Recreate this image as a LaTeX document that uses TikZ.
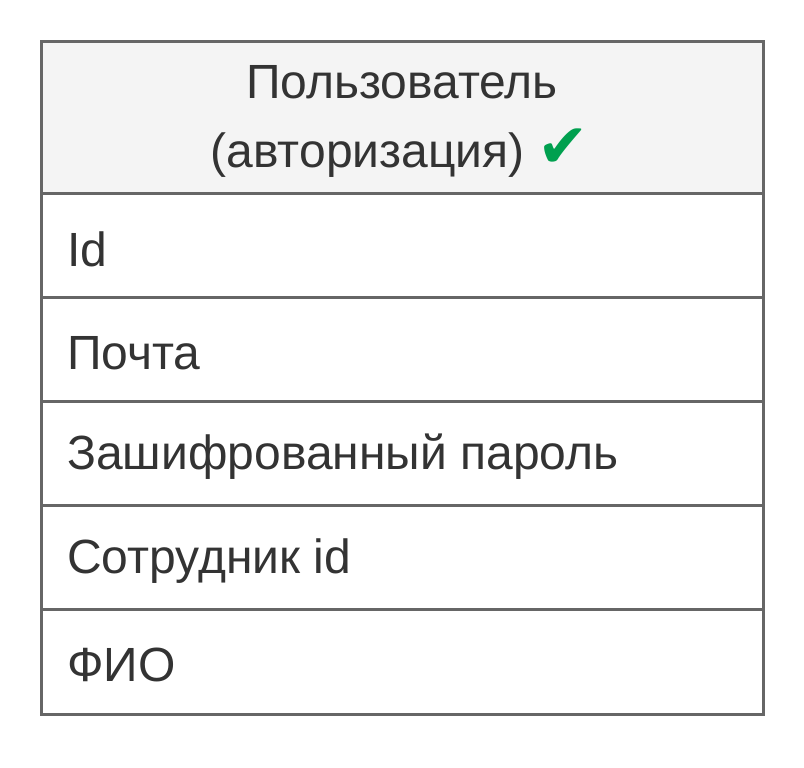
\documentclass[tikz,border=0pt]{standalone}
\usepackage{fontspec}
\setmainfont{Liberation Sans}
\newfontfamily\symfont{DejaVu Sans}
\definecolor{bordergray}{HTML}{666666}
\definecolor{headfill}{HTML}{F4F4F4}
\definecolor{txt}{HTML}{333333}
\definecolor{checkgreen}{HTML}{00A04F}
\begin{document}
\begin{tikzpicture}[x=0.75pt,y=-0.75pt,
  cell/.style={draw=bordergray,line width=2.25pt},
  rowtext/.style={anchor=west,text=txt,font=\fontsize{36}{42}\selectfont,inner sep=0pt},
  headtext/.style={anchor=center,text=txt,font=\fontsize{36}{42}\selectfont,inner sep=0pt}]
\useasboundingbox (0,0) rectangle (804,768);
\fill[headfill] (41,41) rectangle (763,193);
\draw[cell] (41,41) rectangle (763,714);
\foreach \yy in {193,297,401,505,609} \draw[cell] (41,\yy) -- (763,\yy);
\node[headtext] (h1) at (402,82) {Пользователь};
\node[headtext] (h2) at (400,153) {(авторизация) \textcolor{checkgreen}{\symfont\fontsize{46}{42}\selectfont ✔}};
\node[rowtext] (r1) at (67,249) {Id};
\node[rowtext] (r2) at (67,353) {Почта};
\node[rowtext] (r3) at (67,457) {Зашифрованный пароль};
\node[rowtext] (r4) at (67,561) {Сотрудник id};
\node[rowtext] (r5) at (67,665) {ФИО};
\end{tikzpicture}
\end{document}
